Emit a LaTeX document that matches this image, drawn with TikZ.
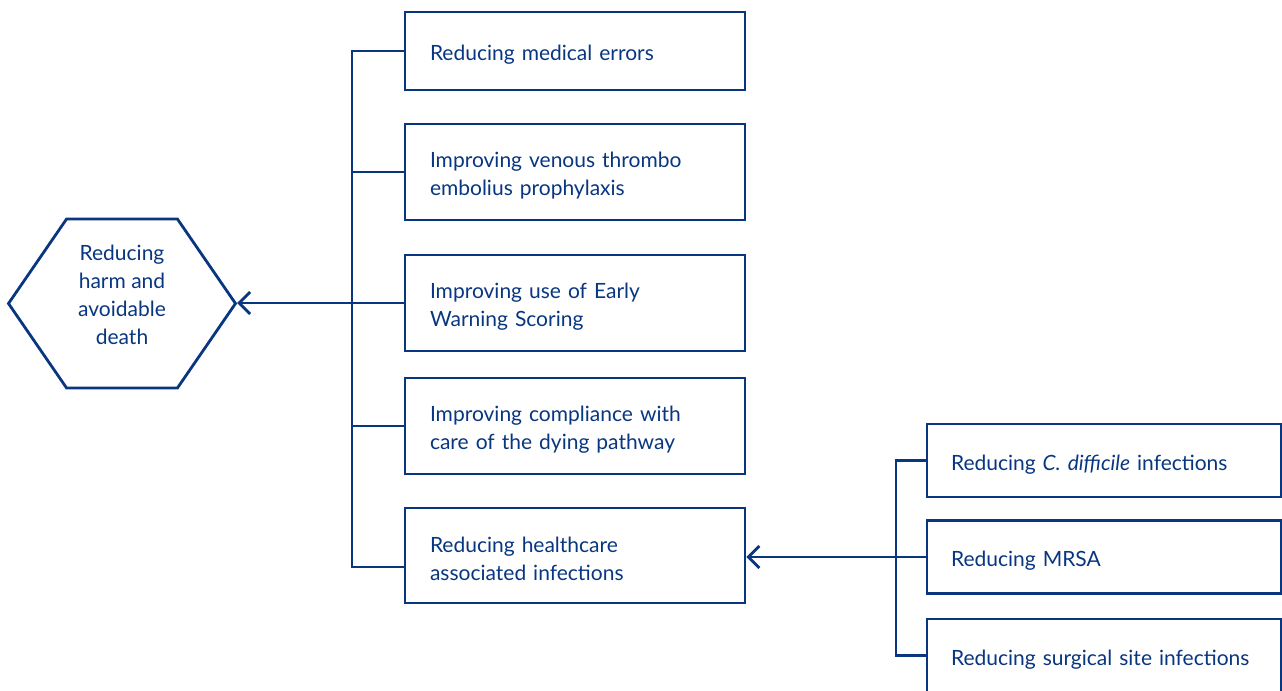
\documentclass[tikz,border=0pt]{standalone}
\usepackage{fontspec}
\setmainfont{Lato}
\usetikzlibrary{arrows.meta, shapes.symbols}
\definecolor{planblue}{RGB}{8,54,128}

\begin{document}
\begin{tikzpicture}[x=0.5pt, y=-0.5pt,
    driver/.style={draw=planblue, line width=1.4pt, text=planblue, align=left,
        inner xsep=12.5pt, text width=145pt, font=\fontsize{10.5}{14}\selectfont,
        execute at begin node=\rule{0pt}{11.5pt}},
    project/.style={driver, inner xsep=12pt, text width=153pt, minimum height=36.5pt},
    link/.style={draw=planblue, line width=1.4pt},
    barb/.style={link, -{Straight Barb[length=5.5pt, width=11pt]}}]
    \useasboundingbox (0,0) rectangle (1282,691);

    % aim
    \node[signal, signal to=west and east, signal pointer angle=111, draw=planblue, line width=1.4pt,
        text=planblue, align=center, minimum width=113.5pt, minimum height=84.5pt, inner sep=0pt,
        font=\fontsize{10.5}{14}\selectfont] (aim) at (122,303.5)
        {Reducing\\harm and\\avoidable\\death\rule[-9pt]{0pt}{9pt}};

    % primary drivers
    \node[driver, minimum height=39pt] (errors) at (575,51) {Reducing medical errors};
    \node[driver, minimum height=48pt] (vte) at (575,172) {Improving venous thrombo\\embolius prophylaxis};
    \node[driver, minimum height=48pt] (ews) at (575,303) {Improving use of Early\\Warning Scoring};
    \node[driver, minimum height=48pt] (dying) at (575,426) {Improving compliance with\\care of the dying pathway};
    \node[driver, minimum height=47.5pt] (hcai) at (575,555.5) {Reducing healthcare\\associated infections};

    % secondary drivers
    \node[project] (cdiff) at (1104,460.5) {Reducing \textit{C. difficile} infections};
    \node[project] (mrsa) at (1104,557) {Reducing MRSA};
    \node[project] (ssi) at (1104,655.5) {Reducing surgical site infections};

    \coordinate (hub) at (352,303);
    \coordinate (subhub) at (896,557);
    \coordinate (hcailow) at ([yshift=-5.75pt]hcai.west);

    \draw[link] (errors.west) -- (errors.west -| hub) -- (hcailow -| hub) -- (hcailow);
    \foreach \d in {vte, ews, dying}
        \draw[link] (\d.west) -- (\d.west -| hub);
    \draw[barb] (hub) -- (hub -| aim.east);

    \draw[link] (cdiff.west) -- (cdiff.west -| subhub) -- (ssi.west -| subhub) -- (ssi.west);
    \draw[link] (mrsa.west) -- (mrsa.west -| subhub);
    \draw[barb] (subhub) -- (subhub -| hcai.east);
\end{tikzpicture}
\end{document}
